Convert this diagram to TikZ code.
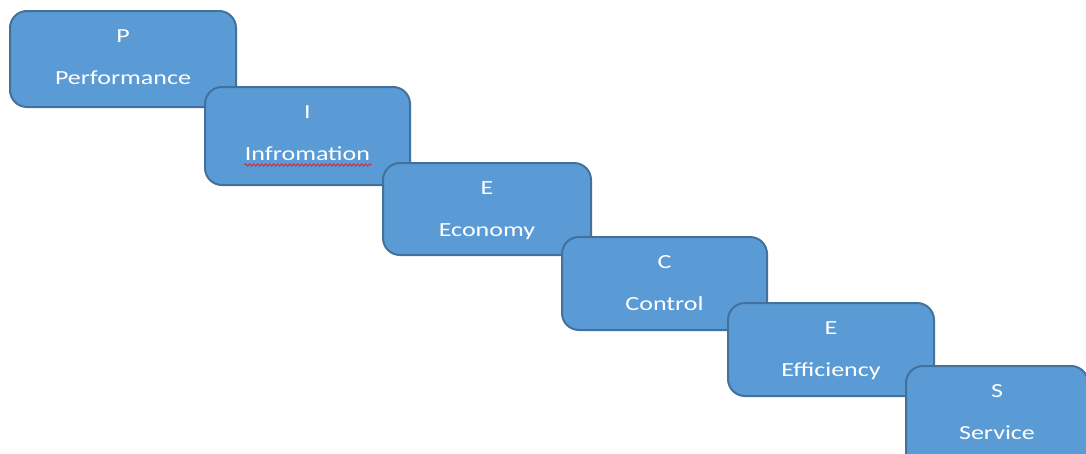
\documentclass[tikz,border=0pt]{standalone}
\usepackage{fontspec}
\setmainfont{Carlito}[FakeStretch=1.3]
\usetikzlibrary{decorations.pathmorphing}
\definecolor{boxfill}{HTML}{5B9BD5}
\definecolor{boxline}{HTML}{41719C}
\definecolor{squig}{HTML}{E0202A}
\begin{document}
\begin{tikzpicture}[x=1pt,y=1pt,
  stepbox/.style={draw=boxline, fill=boxfill, line width=2pt, rounded corners=17pt, inner sep=0pt},
  lbl/.style={anchor=base, text=white, inner sep=0pt, font=\fontsize{20}{24}\selectfont}]
\useasboundingbox (0,0) rectangle (1086,-453);
\clip (0,0) rectangle (1086,-453);
\fill[white] (0,0) rectangle (1086,-453);
% boxes: left, top, right, bottom
\node[stepbox, minimum width=226pt, minimum height=96pt] (b1) at (123,-59) {};
\node[lbl] (b1a) at ([yshift=-32pt]b1.north) {P};
\node[lbl] (b1b) at ([yshift=-74pt]b1.north) {Performance};

\node[stepbox, minimum width=205pt, minimum height=98pt] (b2) at (307.5,-136) {};
\node[lbl] (b2a) at ([yshift=-32pt]b2.north) {I};
\node[lbl] (b2b) at ([yshift=-74pt]b2.north) {Infromation};
\coordinate (sqa) at ([xshift=-63pt,yshift=-5pt]b2b.base);
\coordinate (sqb) at ([xshift=64pt,yshift=-5pt]b2b.base);
\draw[squig, line width=0.8pt, decorate, decoration={snake, amplitude=1.2pt, segment length=4pt}] (sqa) -- (sqb);

\node[stepbox, minimum width=208pt, minimum height=92pt] (b3) at (487,-209) {};
\node[lbl] (b3a) at ([yshift=-32pt]b3.north) {E};
\node[lbl] (b3b) at ([yshift=-74pt]b3.north) {Economy};

\node[stepbox, minimum width=205pt, minimum height=93pt] (b4) at (664.5,-283.5) {};
\node[lbl] (b4a) at ([yshift=-32pt]b4.north) {C};
\node[lbl] (b4b) at ([yshift=-74pt]b4.north) {Control};

\node[stepbox, minimum width=206pt, minimum height=93pt] (b5) at (831,-349.5) {};
\node[lbl] (b5a) at ([yshift=-32pt]b5.north) {E};
\node[lbl] (b5b) at ([yshift=-74pt]b5.north) {Efficiency};

\node[stepbox, minimum width=182pt, minimum height=104pt] (b6) at (997,-418) {};
\node[lbl] (b6a) at ([yshift=-32pt]b6.north) {S};
\node[lbl] (b6b) at ([yshift=-74pt]b6.north) {Service};
\end{tikzpicture}
\end{document}
